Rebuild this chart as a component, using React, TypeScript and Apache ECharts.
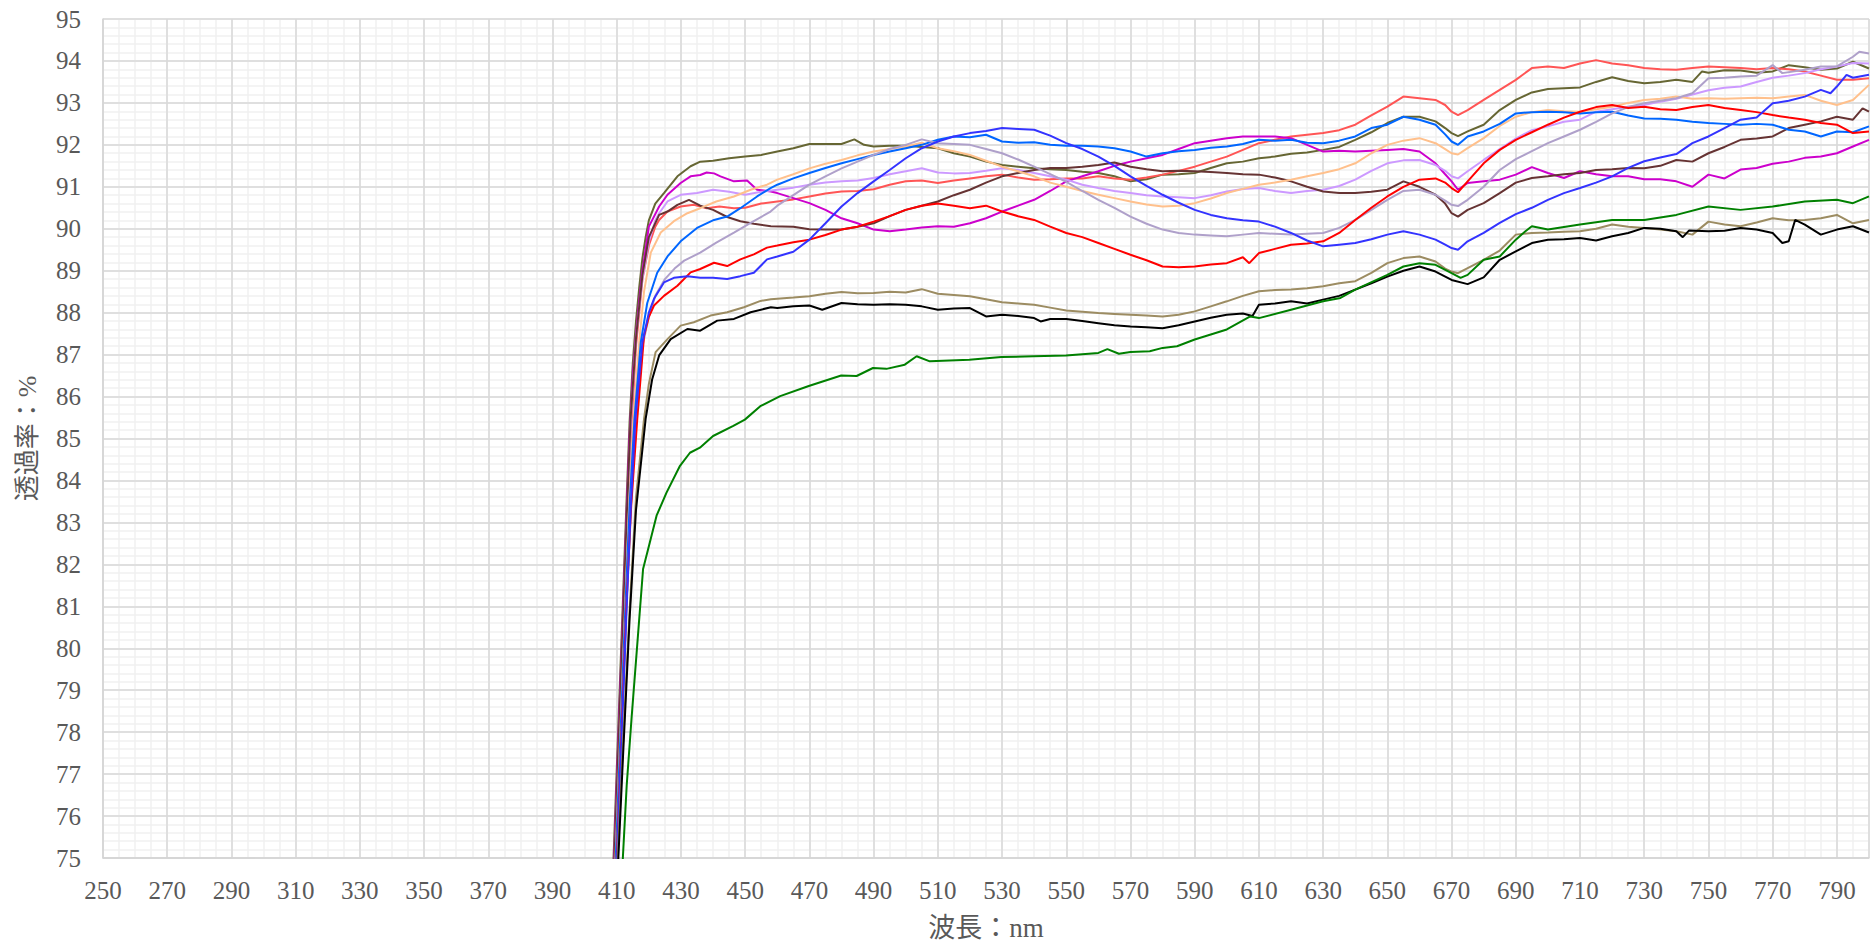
import React, { useEffect, useRef } from "react";
import * as echarts from "echarts";

type P = [number, number][];

const xTicksStart = 250;
const xTicksEnd = 800;
const yMin = 75;
const yMax = 95;

const olive: P = [[408.5,73.9],[409,75],[410,77.1],[411,79.2],[412,81.3],[413,83.4],[414,85.4],[415,86.8],[416,87.8],[417,88.6],[418,89.3],[419,89.8],[420,90.2],[422,90.6],[424.7,90.85],[428.9,91.25],[433,91.49],[436,91.6],[440,91.62],[445,91.68],[450,91.72],[455,91.76],[460,91.84],[465,91.92],[470,92.02],[475,92.02],[480,92.02],[484,92.13],[487,92.0],[490,91.96],[495,91.98],[500,91.98],[505,91.95],[510,91.92],[515,91.8],[520,91.72],[525,91.6],[530,91.52],[535,91.48],[540,91.44],[545,91.42],[550,91.4],[555,91.36],[560,91.33],[565,91.25],[570,91.13],[575,91.18],[580,91.29],[585,91.3],[590,91.33],[595,91.45],[600,91.56],[605,91.6],[610,91.68],[615,91.72],[620,91.79],[625,91.82],[630,91.88],[635,91.95],[640,92.12],[645,92.3],[650,92.52],[655,92.67],[660,92.67],[665,92.56],[668,92.4],[670,92.28],[672,92.21],[675,92.32],[680,92.48],[685,92.83],[690,93.07],[695,93.25],[700,93.33],[705,93.35],[710,93.37],[715,93.5],[720,93.61],[725,93.52],[730,93.47],[735,93.5],[740,93.55],[745,93.5],[748,93.75],[750,93.72],[755,93.78],[760,93.77],[765,93.72],[770,93.75],[775,93.9],[780,93.85],[785,93.79],[790,93.82],[795,93.98],[800,93.82]];

const coral: P = [[409,73.9],[409.5,75],[410.5,77.1],[411.5,79.2],[412.5,81.3],[413.5,83.3],[414.7,85.45],[416,87.2],[418,88.8],[420,89.6],[422,90.05],[423.2,90.21],[425.8,90.41],[429.9,90.53],[434,90.57],[438,90.49],[442,90.53],[446.5,90.49],[450,90.5],[455,90.6],[460,90.65],[465,90.7],[470,90.77],[475,90.84],[480,90.89],[485,90.9],[490,90.94],[495,91.05],[500,91.13],[505,91.15],[510,91.09],[515,91.15],[520,91.2],[525,91.25],[530,91.29],[535,91.22],[540,91.17],[545,91.18],[550,91.2],[555,91.2],[560,91.25],[565,91.2],[570,91.17],[575,91.22],[580,91.29],[585,91.38],[590,91.48],[595,91.6],[600,91.72],[605,91.88],[610,92.04],[615,92.12],[620,92.2],[625,92.24],[630,92.28],[635,92.35],[640,92.48],[645,92.7],[650,92.91],[655,93.15],[660,93.11],[665,93.07],[668,92.95],[670,92.79],[672,92.71],[675,92.83],[680,93.07],[685,93.31],[690,93.55],[695,93.83],[700,93.87],[705,93.83],[710,93.94],[715,94.02],[720,93.94],[725,93.9],[730,93.83],[735,93.8],[740,93.79],[745,93.83],[750,93.87],[755,93.85],[760,93.83],[765,93.8],[770,93.83],[775,93.8],[780,93.75],[785,93.65],[790,93.55],[795,93.55],[800,93.59]];

const magenta: P = [[408.7,73.9],[409.2,75],[410,76.8],[411,78.9],[412,81],[413,83.1],[414,85.1],[415,86.5],[416,87.5],[417,88.3],[418,89.0],[420,90.05],[423.2,90.53],[425.8,90.81],[429.9,91.09],[433,91.25],[436,91.28],[438,91.34],[440.3,91.32],[442.3,91.25],[446.5,91.13],[450.6,91.15],[453.7,90.93],[458,90.89],[460,90.85],[465,90.73],[470,90.61],[475,90.45],[480,90.25],[485,90.13],[490,89.98],[495,89.94],[500,89.98],[505,90.03],[510,90.06],[515,90.05],[520,90.13],[525,90.25],[530,90.41],[535,90.55],[540,90.69],[545,90.9],[550,91.13],[555,91.25],[560,91.37],[565,91.5],[570,91.6],[575,91.68],[580,91.76],[585,91.9],[590,92.04],[595,92.1],[600,92.16],[605,92.2],[610,92.2],[615,92.2],[620,92.16],[625,92.0],[630,91.84],[635,91.86],[640,91.84],[645,91.86],[650,91.88],[655,91.9],[660,91.84],[665,91.56],[668,91.3],[670,91.13],[672,90.93],[675,91.09],[680,91.13],[685,91.17],[690,91.29],[695,91.47],[700,91.33],[705,91.21],[710,91.37],[715,91.3],[720,91.25],[725,91.25],[730,91.18],[735,91.18],[740,91.13],[745,91.0],[750,91.29],[755,91.2],[760,91.41],[765,91.45],[770,91.55],[775,91.6],[780,91.69],[785,91.72],[790,91.8],[795,91.96],[800,92.12]];

const lavender: P = [[409,73.9],[409.4,75],[410.3,77],[411.3,79.1],[412.3,81.2],[413.3,83.2],[414.4,85.45],[416,87.4],[418,88.8],[420,89.7],[422,90.2],[423.2,90.37],[425.8,90.65],[429.9,90.81],[435,90.85],[440,90.93],[445,90.88],[450,90.81],[455,90.88],[460,90.93],[465,90.98],[470,91.05],[475,91.1],[480,91.13],[485,91.15],[490,91.21],[495,91.3],[500,91.37],[505,91.44],[510,91.34],[515,91.32],[520,91.33],[525,91.38],[530,91.44],[535,91.4],[540,91.33],[545,91.25],[550,91.17],[555,91.05],[560,90.97],[565,90.9],[570,90.85],[575,90.8],[580,90.77],[585,90.75],[590,90.73],[595,90.8],[600,90.89],[605,90.95],[610,90.97],[615,90.9],[620,90.85],[625,90.9],[630,90.93],[635,91.02],[640,91.17],[645,91.38],[650,91.56],[655,91.63],[660,91.64],[665,91.52],[668,91.38],[670,91.25],[672,91.2],[675,91.37],[680,91.64],[685,91.9],[690,92.15],[695,92.35],[700,92.44],[705,92.55],[710,92.6],[715,92.79],[720,92.85],[725,92.91],[730,92.95],[735,93.03],[740,93.1],[745,93.2],[750,93.3],[755,93.36],[760,93.39],[765,93.5],[770,93.6],[775,93.65],[780,93.71],[785,93.8],[790,93.87],[795,93.95],[800,93.94]];

const brown: P = [[408.8,73.9],[409.3,75],[410.2,77],[411.2,79.1],[412.2,81.2],[413.2,83.3],[414.3,85.45],[416,87.4],[418,88.9],[420,89.8],[423.2,90.33],[425.8,90.41],[428.9,90.57],[432.5,90.69],[436,90.55],[440,90.45],[444.4,90.28],[448.5,90.18],[452.7,90.12],[458,90.06],[465,90.05],[470,89.99],[475,89.98],[480,89.98],[485,90.05],[490,90.13],[495,90.3],[500,90.45],[505,90.55],[510,90.65],[515,90.8],[520,90.93],[525,91.1],[530,91.25],[535,91.33],[540,91.4],[545,91.45],[550,91.45],[555,91.48],[560,91.52],[565,91.58],[570,91.48],[575,91.42],[580,91.37],[585,91.38],[590,91.37],[595,91.35],[600,91.33],[605,91.3],[610,91.29],[615,91.22],[620,91.13],[625,91.0],[630,90.89],[635,90.85],[640,90.85],[645,90.88],[650,90.93],[655,91.13],[660,91.0],[665,90.81],[668,90.6],[670,90.37],[672,90.29],[675,90.45],[680,90.61],[685,90.85],[690,91.1],[695,91.21],[700,91.25],[705,91.3],[710,91.33],[715,91.4],[720,91.42],[725,91.45],[730,91.44],[735,91.5],[740,91.64],[745,91.6],[750,91.8],[755,91.95],[760,92.12],[765,92.15],[770,92.2],[775,92.4],[780,92.48],[785,92.56],[790,92.67],[795,92.6],[798,92.87],[800,92.79]];

const peach: P = [[409.1,73.9],[409.6,75],[410.6,77],[411.6,79],[412.6,81],[413.8,83.3],[415.2,85.45],[417,87.3],[418.5,88.5],[420.6,89.43],[423.7,89.91],[427.8,90.18],[432,90.37],[436,90.49],[441,90.65],[446.5,90.77],[451.7,90.93],[456.8,91.05],[460,91.17],[465,91.3],[470,91.44],[475,91.55],[480,91.64],[485,91.75],[490,91.84],[495,91.9],[500,91.96],[505,92.05],[510,91.92],[515,91.85],[520,91.76],[525,91.62],[530,91.48],[535,91.37],[540,91.25],[545,91.1],[550,91.0],[555,90.9],[560,90.81],[565,90.73],[570,90.65],[575,90.58],[580,90.53],[585,90.55],[590,90.61],[595,90.72],[600,90.85],[605,90.95],[610,91.05],[615,91.1],[620,91.17],[625,91.25],[630,91.33],[635,91.42],[640,91.56],[645,91.8],[650,92.0],[655,92.1],[660,92.16],[665,92.04],[668,91.9],[670,91.8],[672,91.77],[675,91.92],[680,92.16],[685,92.45],[690,92.67],[695,92.78],[700,92.83],[705,92.8],[710,92.79],[715,92.85],[720,92.91],[725,93.0],[730,93.07],[735,93.1],[740,93.15],[745,93.1],[750,93.11],[755,93.1],[760,93.11],[765,93.12],[770,93.11],[775,93.15],[780,93.19],[785,93.05],[790,92.95],[795,93.07],[800,93.43]];

const azure: P = [[409.2,73.9],[409.7,75],[410.7,77],[411.7,79],[412.7,81],[414,83.4],[415.5,85.45],[417.5,87.3],[419.5,88.23],[422.6,88.95],[425.8,89.34],[429.9,89.7],[435,90.02],[440.3,90.21],[444.4,90.29],[448.5,90.49],[453.7,90.77],[457.9,90.97],[460,91.05],[465,91.2],[470,91.33],[475,91.45],[480,91.56],[485,91.66],[490,91.76],[495,91.84],[500,91.92],[505,92.0],[510,92.12],[515,92.2],[520,92.18],[525,92.24],[530,92.08],[535,92.05],[540,92.06],[545,92.0],[550,91.98],[555,91.98],[560,91.96],[565,91.92],[570,91.84],[575,91.72],[580,91.8],[585,91.85],[590,91.88],[595,91.93],[600,91.96],[605,92.02],[610,92.12],[615,92.1],[620,92.12],[625,92.05],[630,92.04],[635,92.1],[640,92.2],[645,92.4],[650,92.48],[655,92.67],[660,92.6],[665,92.48],[668,92.25],[670,92.08],[672,92.0],[675,92.2],[680,92.32],[685,92.5],[690,92.75],[695,92.78],[700,92.79],[705,92.78],[710,92.75],[715,92.78],[720,92.79],[725,92.7],[730,92.63],[735,92.62],[740,92.6],[745,92.55],[750,92.52],[755,92.5],[760,92.48],[765,92.5],[770,92.48],[775,92.36],[780,92.32],[785,92.2],[790,92.32],[795,92.3],[800,92.44]];

const grayLavender: P = [[409.5,73.9],[410,75],[411,77],[412,79],[413,81],[414.5,83.5],[416,85.45],[418,87.2],[420,87.9],[422,88.4],[425,88.8],[428,89.05],[431,89.24],[436,89.43],[441,89.67],[446.5,89.91],[451.7,90.14],[457.9,90.41],[460,90.55],[465,90.8],[470,91.05],[475,91.25],[480,91.44],[485,91.6],[490,91.76],[495,91.9],[500,92.0],[505,92.13],[510,92.04],[515,92.02],[520,92.0],[525,91.9],[530,91.8],[535,91.65],[540,91.48],[545,91.3],[550,91.12],[555,90.9],[560,90.69],[565,90.5],[570,90.29],[575,90.12],[580,89.98],[585,89.9],[590,89.86],[595,89.84],[600,89.82],[605,89.86],[610,89.9],[615,89.88],[620,89.86],[625,89.88],[630,89.9],[635,90.02],[640,90.21],[645,90.45],[650,90.69],[655,90.9],[660,90.93],[665,90.81],[668,90.67],[670,90.57],[672,90.54],[675,90.69],[680,91.0],[685,91.4],[690,91.66],[695,91.85],[700,92.04],[705,92.2],[710,92.36],[715,92.55],[720,92.75],[725,92.9],[730,92.99],[735,93.05],[740,93.11],[745,93.23],[750,93.59],[755,93.6],[760,93.63],[765,93.65],[770,93.9],[773,93.71],[780,93.79],[785,93.87],[790,93.87],[795,94.1],[797,94.22],[800,94.18]];

const red: P = [[409.5,73.9],[410,75],[411,77],[412,79],[413,81],[414.5,83.4],[416.4,85.47],[418.5,87.45],[420,87.9],[421.6,88.17],[424.7,88.4],[428.9,88.64],[433,88.96],[436,89.04],[440.3,89.19],[444.4,89.11],[448.5,89.27],[452.7,89.39],[456.8,89.55],[460,89.6],[465,89.68],[470,89.74],[475,89.85],[480,89.98],[485,90.05],[490,90.17],[495,90.3],[500,90.45],[505,90.55],[510,90.6],[515,90.55],[520,90.49],[525,90.55],[530,90.41],[535,90.3],[540,90.21],[545,90.05],[550,89.9],[555,89.8],[560,89.66],[565,89.52],[570,89.38],[575,89.25],[580,89.1],[585,89.08],[590,89.1],[595,89.15],[600,89.18],[605,89.32],[607,89.18],[610,89.42],[615,89.52],[620,89.62],[625,89.65],[630,89.7],[635,89.9],[640,90.21],[645,90.5],[650,90.77],[655,91.0],[660,91.17],[665,91.2],[668,91.1],[670,90.97],[672,90.87],[675,91.13],[680,91.56],[685,91.88],[690,92.12],[695,92.3],[700,92.48],[705,92.65],[710,92.79],[715,92.9],[720,92.95],[725,92.88],[730,92.91],[735,92.85],[740,92.83],[745,92.9],[750,92.95],[755,92.88],[760,92.83],[765,92.78],[770,92.71],[775,92.65],[780,92.6],[785,92.52],[790,92.48],[795,92.28],[800,92.32]];

const blue: P = [[409.6,73.9],[410.1,75],[411.1,77],[412.1,79],[413.1,81],[414.4,83.4],[415.8,85.45],[418,87.3],[420,88.0],[421.6,88.33],[424.7,88.72],[427.8,88.83],[432,88.87],[436,88.83],[440,88.83],[444.4,88.8],[448.5,88.87],[452.7,88.95],[456.8,89.27],[460,89.34],[465,89.45],[470,89.74],[475,90.13],[480,90.53],[485,90.85],[490,91.13],[495,91.4],[500,91.68],[505,91.92],[510,92.08],[515,92.2],[520,92.28],[525,92.33],[530,92.4],[535,92.38],[540,92.36],[545,92.22],[550,92.04],[555,91.9],[560,91.72],[565,91.5],[570,91.25],[575,91.02],[580,90.81],[585,90.62],[590,90.45],[595,90.33],[600,90.25],[605,90.2],[610,90.17],[615,90.05],[620,89.9],[625,89.72],[630,89.58],[635,89.62],[640,89.66],[645,89.75],[650,89.86],[655,89.94],[660,89.86],[665,89.74],[668,89.62],[670,89.54],[672,89.5],[675,89.7],[680,89.9],[685,90.14],[690,90.35],[695,90.5],[700,90.69],[705,90.85],[710,90.97],[715,91.1],[720,91.25],[725,91.45],[730,91.61],[735,91.7],[740,91.78],[745,92.04],[750,92.2],[755,92.4],[760,92.6],[765,92.65],[770,92.99],[775,93.05],[780,93.15],[785,93.31],[788,93.23],[790,93.39],[793,93.67],[795,93.6],[800,93.67]];

const khaki: P = [[409.9,73.9],[410.3,75],[412,77.8],[414,80.9],[416,83.6],[418.5,85.47],[420,86.3],[422.1,87.06],[425.8,87.37],[429.9,87.69],[434,87.77],[439.2,87.93],[444.4,88.01],[449.6,88.13],[454.8,88.28],[458,88.32],[465,88.36],[470,88.39],[475,88.45],[480,88.49],[485,88.46],[490,88.47],[495,88.5],[500,88.48],[505,88.56],[510,88.45],[515,88.42],[520,88.39],[525,88.32],[530,88.25],[535,88.22],[540,88.19],[545,88.12],[550,88.05],[555,88.02],[560,87.99],[565,87.97],[570,87.95],[575,87.93],[580,87.91],[585,87.95],[590,88.03],[595,88.15],[600,88.27],[605,88.4],[610,88.51],[615,88.54],[620,88.55],[625,88.58],[630,88.63],[635,88.7],[640,88.75],[645,88.95],[650,89.18],[655,89.3],[660,89.34],[665,89.22],[668,89.05],[670,88.98],[672,88.94],[675,89.06],[680,89.26],[685,89.48],[690,89.86],[695,89.9],[700,89.91],[705,89.93],[710,89.94],[715,90.0],[720,90.1],[725,90.05],[730,90.02],[735,89.98],[740,89.94],[745,89.86],[750,90.17],[755,90.1],[760,90.06],[765,90.15],[770,90.25],[775,90.2],[780,90.21],[785,90.25],[790,90.33],[795,90.13],[800,90.21]];

const black: P = [[410,73.9],[410.5,75],[412,77.5],[414,80.7],[416,83.3],[419,85.47],[421,86.4],[423.2,86.98],[426.8,87.37],[432,87.61],[436,87.57],[441.3,87.81],[446.5,87.85],[451.7,88.01],[458,88.13],[460,88.11],[465,88.15],[470,88.17],[474,88.07],[480,88.23],[485,88.2],[490,88.19],[495,88.2],[500,88.19],[505,88.15],[510,88.07],[515,88.1],[520,88.11],[525,87.91],[530,87.95],[535,87.92],[540,87.87],[542,87.79],[545,87.85],[550,87.85],[555,87.8],[560,87.75],[565,87.7],[570,87.67],[575,87.65],[580,87.63],[585,87.7],[590,87.79],[595,87.88],[600,87.95],[605,87.98],[608,87.92],[610,88.19],[615,88.22],[620,88.27],[625,88.22],[630,88.31],[635,88.4],[640,88.55],[645,88.7],[650,88.86],[655,89.0],[660,89.1],[665,88.98],[670,88.78],[675,88.68],[680,88.84],[685,89.26],[690,89.46],[695,89.66],[700,89.74],[705,89.75],[710,89.78],[715,89.72],[720,89.82],[725,89.9],[730,90.02],[735,90.0],[740,89.94],[742,89.8],[744,89.96],[750,89.94],[755,89.95],[760,90.02],[765,89.98],[770,89.9],[773,89.66],[775,89.7],[777,90.21],[780,90.1],[785,89.86],[790,89.98],[795,90.06],[800,89.91]];

const green: P = [[411.7,73.9],[411.9,75],[413.1,76.73],[414.6,78.32],[416.2,79.9],[418.2,81.89],[420.3,82.52],[422.4,83.16],[425.5,83.71],[429.7,84.35],[432.8,84.66],[435.9,84.78],[440,85.06],[446.3,85.3],[449.9,85.45],[454.7,85.77],[460.9,86.01],[469.8,86.25],[479.9,86.5],[484.7,86.49],[489.8,86.68],[494,86.66],[499.7,86.76],[503.4,86.96],[507.5,86.84],[519.8,86.88],[529.8,86.94],[539.8,86.96],[549.9,86.98],[560,87.04],[562.8,87.13],[566.4,87.02],[570,87.06],[576,87.08],[580,87.16],[584.5,87.2],[590,87.36],[595,87.48],[600,87.6],[607.3,87.91],[610,87.87],[620,88.07],[630,88.27],[635.4,88.35],[640,88.55],[650,88.9],[655,89.1],[660,89.18],[665,89.14],[670,88.94],[672.8,88.83],[675,88.9],[680,89.26],[685,89.34],[690,89.74],[693,89.94],[695,90.06],[700,89.98],[710,90.1],[720,90.21],[730,90.21],[740,90.33],[750,90.53],[760,90.45],[770,90.53],[780,90.65],[790,90.69],[795,90.61],[800,90.77]];

const seriesList: { name: string; color: string; data: P }[] = [
  { name: "olive", color: "#666633", data: olive },
  { name: "coral", color: "#FF5555", data: coral },
  { name: "magenta", color: "#CC00CC", data: magenta },
  { name: "lavender", color: "#CC99FF", data: lavender },
  { name: "brown", color: "#663333", data: brown },
  { name: "peach", color: "#FFC08C", data: peach },
  { name: "azure", color: "#0066FF", data: azure },
  { name: "grayLavender", color: "#AFA0CA", data: grayLavender },
  { name: "red", color: "#FF0000", data: red },
  { name: "blue", color: "#3333FF", data: blue },
  { name: "khaki", color: "#9C8C62", data: khaki },
  { name: "black", color: "#000000", data: black },
  { name: "green", color: "#008000", data: green },
];

const FONT = "'Liberation Serif', 'Noto Sans CJK JP', serif";

export default function App() {
  const ref = useRef<HTMLDivElement>(null);
  useEffect(() => {
    if (!ref.current) return;
    const chart = echarts.init(ref.current, undefined, { renderer: "svg" });
    chart.setOption({
      animation: false,
      backgroundColor: "#ffffff",
      grid: { left: 103, top: 19, width: 1766, height: 840, containLabel: false },
      xAxis: [
        {
          type: "value", min: xTicksStart, max: xTicksEnd, interval: 5, position: "top", z: 0,
          axisLine: { show: false }, axisTick: { show: false }, axisLabel: { show: false },
          splitLine: { show: true, lineStyle: { color: "#f0f0f0", width: 1.5 } },
        },
        {
          type: "value", min: xTicksStart, max: xTicksEnd, interval: 20, position: "bottom", z: 1,
          axisLine: { show: true, onZero: false, lineStyle: { color: "#d4d4d4", width: 1.5 } },
          axisTick: { show: false },
          axisLabel: { color: "#595959", fontFamily: FONT, fontSize: 25, margin: 20, showMaxLabel: false },
          splitLine: { show: true, lineStyle: { color: "#d9d9d9", width: 1.5 } },
          name: "波長：nm", nameLocation: "middle", nameGap: 56,
          nameTextStyle: { color: "#595959", fontFamily: FONT, fontSize: 27 },
        },
      ],
      yAxis: [
        {
          type: "value", min: yMin, max: yMax, interval: 0.2, position: "right", z: 0,
          axisLine: { show: false }, axisTick: { show: false }, axisLabel: { show: false },
          splitLine: { show: true, lineStyle: { color: "#f0f0f0", width: 1.5 } },
        },
        {
          type: "value", min: yMin, max: yMax, interval: 1, position: "left", z: 1,
          axisLine: { show: true, onZero: false, lineStyle: { color: "#d4d4d4", width: 1.5 } },
          axisTick: { show: false },
          axisLabel: { color: "#595959", fontFamily: FONT, fontSize: 25, margin: 22 },
          splitLine: { show: true, lineStyle: { color: "#d9d9d9", width: 1.5 } },
          name: "透過率：%", nameLocation: "middle", nameGap: 63,
          nameTextStyle: { color: "#595959", fontFamily: FONT, fontSize: 26 },
        },
      ],
      series: seriesList.map((s) => ({
        name: s.name,
        type: "line",
        xAxisIndex: 1,
        yAxisIndex: 1,
        data: s.data,
        showSymbol: false,
        symbol: "none",
        clip: true,
        lineStyle: { color: s.color, width: 2 },
        itemStyle: { color: s.color },
        z: 3,
      })),
    });
    return () => chart.dispose();
  }, []);
  return (
    <div
      ref={ref}
      style={{ position: "fixed", left: 0, top: 0, width: 1870, height: 946, background: "#fff" }}
    />
  );
}
